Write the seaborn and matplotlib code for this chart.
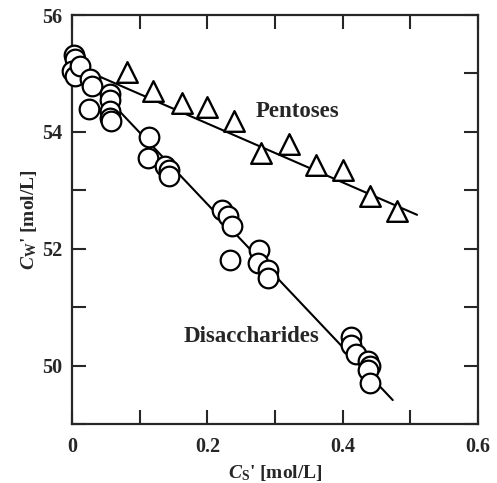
import matplotlib
matplotlib.use("Agg")
import matplotlib.pyplot as plt
from matplotlib.ticker import MultipleLocator, FuncFormatter
import seaborn as sns

# Disaccharides (circles)
dis_cs = [0.003, 0.004, 0.0, 0.004, 0.012, 0.027, 0.03, 0.025,
          0.056, 0.056, 0.056, 0.056, 0.057,
          0.114, 0.113, 0.137, 0.143, 0.143,
          0.221, 0.23, 0.236, 0.233, 0.277, 0.275, 0.29, 0.29,
          0.413, 0.413, 0.42, 0.437, 0.44, 0.437, 0.44]
dis_cw = [55.32, 55.24, 55.05, 54.95, 55.12, 54.9, 54.78, 54.39,
          54.64, 54.55, 54.36, 54.24, 54.19,
          53.92, 53.55, 53.42, 53.34, 53.24,
          52.66, 52.56, 52.39, 51.81, 51.97, 51.76, 51.64, 51.5,
          50.49, 50.36, 50.19, 50.07, 50.0, 49.93, 49.7]

# Pentoses (triangles)
pen_cs = [0.081, 0.12, 0.162, 0.2, 0.24, 0.28, 0.32, 0.361, 0.4, 0.441, 0.481]
pen_cw = [55.02, 54.7, 54.49, 54.42, 54.19, 53.63, 53.8, 53.44, 53.34, 52.9, 52.65]

# fitted lines, end points
dis_fit_cs = [0.05, 0.474]
dis_fit_cw = [54.6, 49.41]
pen_fit_cs = [0.04, 0.51]
pen_fit_cw = [54.95, 52.58]

sns.set_style("ticks")
plt.rcParams["font.family"] = ["Liberation Serif", "DejaVu Serif"]
plt.rcParams["font.weight"] = "bold"
plt.rcParams["mathtext.fontset"] = "custom"
plt.rcParams["mathtext.rm"] = "Liberation Serif:bold"
plt.rcParams["mathtext.it"] = "Liberation Serif:italic:bold"

fig = plt.figure(figsize=(4.97, 4.83), dpi=100)
ax = fig.add_axes([72 / 497, 1 - 424 / 483, 406 / 497, 409 / 483])

sns.lineplot(x=dis_fit_cs, y=dis_fit_cw, color="black", lw=1.5, ax=ax, zorder=1)
sns.lineplot(x=pen_fit_cs, y=pen_fit_cw, color="black", lw=1.5, ax=ax, zorder=1)

sns.scatterplot(x=dis_cs, y=dis_cw, marker="o", s=200, facecolor="white",
                edgecolor="black", linewidth=1.6, ax=ax, zorder=3, clip_on=False)
sns.scatterplot(x=pen_cs, y=pen_cw, marker="^", s=220, facecolor="white",
                edgecolor="black", linewidth=1.7, ax=ax, zorder=3, clip_on=False)

ax.text(0.333, 54.34, "Pentoses", fontsize=16.5, fontweight="bold",
        ha="center", va="center")
ax.text(0.265, 50.49, "Disaccharides", fontsize=16.5, fontweight="bold",
        ha="center", va="center")

ax.set_xlim(0, 0.6)
ax.set_ylim(49, 56)
ax.xaxis.set_major_locator(MultipleLocator(0.2))
ax.xaxis.set_minor_locator(MultipleLocator(0.1))
ax.yaxis.set_major_locator(MultipleLocator(2))
ax.yaxis.set_minor_locator(MultipleLocator(1))
ax.xaxis.set_major_formatter(FuncFormatter(lambda v, p: f"{v:g}"))
ax.yaxis.set_major_formatter(FuncFormatter(lambda v, p: f"{v:g}"))

for side in ["top", "right", "bottom", "left"]:
    ax.spines[side].set_visible(True)
    ax.spines[side].set_linewidth(1.6)
ax.tick_params(which="both", direction="in", top=True, right=True,
               length=10, width=1.5, labelsize=14.5)
ax.tick_params(axis="x", pad=9)
ax.tick_params(axis="y", pad=7)

ax.set_xlabel(r"$C_{\mathrm{S}}$' [mol/L]", fontsize=14, fontweight="bold", labelpad=5)
ax.set_ylabel(r"$C_{\mathrm{W}}$' [mol/L]", fontsize=14, fontweight="bold", labelpad=2)

fig.savefig("out.png", dpi=100)
